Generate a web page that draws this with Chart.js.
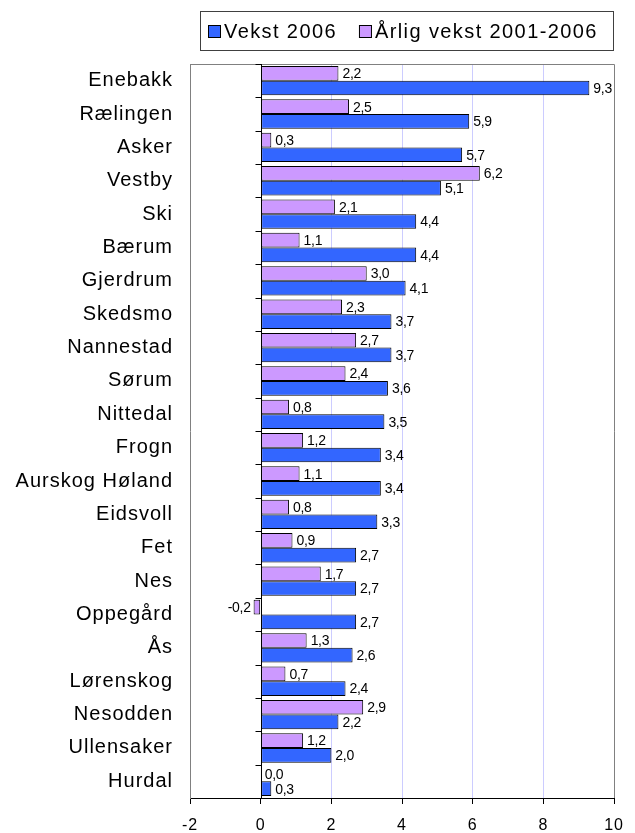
<!DOCTYPE html>
<html>
<head>
<meta charset="utf-8">
<script src="https://cdn.jsdelivr.net/npm/chart.js@4.4.1/dist/chart.umd.min.js"></script>
<style>
  html, body { margin: 0; padding: 0; background: #fff; }
  #wrap { width: 635px; height: 833px; }
</style>
</head>
<body>
<div id="wrap"><canvas id="chart" width="635" height="833"></canvas></div>
<script>
var kommuner = ["Enebakk", "Rælingen", "Asker", "Vestby", "Ski", "Bærum", "Gjerdrum", "Skedsmo",
    "Nannestad", "Sørum", "Nittedal", "Frogn", "Aurskog Høland", "Eidsvoll", "Fet", "Nes",
    "Oppegård", "Ås", "Lørenskog", "Nesodden", "Ullensaker", "Hurdal"];
var vekst2006 = [9.3, 5.9, 5.7, 5.1, 4.4, 4.4, 4.1, 3.7, 3.7, 3.6, 3.5, 3.4, 3.4, 3.3, 2.7, 2.7,
    2.7, 2.6, 2.4, 2.2, 2.0, 0.3];
var aarligVekst = [2.2, 2.5, 0.3, 6.2, 2.1, 1.1, 3.0, 2.3, 2.7, 2.4, 0.8, 1.2, 1.1, 0.8, 0.9, 1.7,
    -0.2, 1.3, 0.7, 2.9, 1.2, 0.0];
var xMin = -2, xMax = 10, xStep = 2;

var FONT = "'Liberation Sans', Arial, sans-serif";

function fmt(v) {
    return v.toFixed(1).replace(".", ",");
}

// frame, zero line, legend box and value labels
var extras = {
    id: "extras",
    beforeDraw: function (chart) {
        chart.ctx.letterSpacing = "1px";
    },
    afterDatasetsDraw: function (chart) {
        var ctx = chart.ctx;
        var a = chart.chartArea;
        var x = chart.scales.x, y = chart.scales.y;
        ctx.save();
        // gray frame top/right
        ctx.strokeStyle = "#808080";
        ctx.lineWidth = 1;
        ctx.beginPath();
        ctx.moveTo(Math.round(a.left) + 0.5, Math.round(a.top) + 0.5);
        ctx.lineTo(Math.round(a.right) + 0.5, Math.round(a.top) + 0.5);
        ctx.lineTo(Math.round(a.right) + 0.5, Math.round(a.bottom));
        ctx.stroke();

        // zero axis with category ticks
        var x0 = Math.round(x.getPixelForValue(0)) + 0.5;
        ctx.strokeStyle = "#000";
        ctx.beginPath();
        ctx.moveTo(x0, a.top);
        ctx.lineTo(x0, a.bottom);
        var half = (y.getPixelForValue(1) - y.getPixelForValue(0)) / 2;
        for (var i = 0; i <= kommuner.length; i++) {
            var py = Math.round(y.getPixelForValue(i) - half) + 0.5;
            ctx.moveTo(x0 - 6, py);
            ctx.lineTo(x0, py);
        }
        ctx.stroke();

        // value labels
        ctx.letterSpacing = "-0.3px";
        ctx.font = "14px " + FONT;
        ctx.fillStyle = "#000";
        ctx.textBaseline = "middle";
        chart.data.datasets.forEach(function (ds, di) {
            chart.getDatasetMeta(di).data.forEach(function (el, j) {
                var v = ds.data[j];
                if (v < 0) {
                    ctx.textAlign = "right";
                    ctx.fillText(fmt(v), el.x - 3, el.y + 1);
                } else {
                    ctx.textAlign = "left";
                    ctx.fillText(fmt(v), el.x + 4, el.y + 1);
                }
            });
        });

        // legend (Vekst 2006 first)
        ctx.letterSpacing = "1.4px";
        ctx.font = "20px " + FONT;
        ctx.textAlign = "left";
        ctx.strokeStyle = "#404040";
        ctx.strokeRect(200.5, 11.5, 413, 39);
        var lx = 208;
        [1, 0].forEach(function (di) {
            var ds = chart.data.datasets[di];
            ctx.fillStyle = ds.backgroundColor;
            ctx.fillRect(lx, 25, 13, 13);
            ctx.strokeStyle = "#000";
            ctx.strokeRect(lx + 0.5, 25.5, 12, 12);
            ctx.fillStyle = "#000";
            ctx.fillText(ds.label, lx + 16, 32);
            lx += 16 + ctx.measureText(ds.label).width + 22;
        });
        ctx.restore();
    },
    afterDraw: function (chart) {
        chart.ctx.letterSpacing = "0px";
    }
};

var ctx = document.getElementById("chart").getContext("2d");
var chart = new Chart(ctx, {
    type: "bar",
    data: {
        labels: kommuner,
        datasets: [
            {
                label: "Årlig vekst 2001-2006",
                data: aarligVekst,
                backgroundColor: "#CC99FF",
                borderColor: "#000",
                borderWidth: 1,
                borderSkipped: false
            },
            {
                label: "Vekst 2006",
                data: vekst2006,
                backgroundColor: "#3366FF",
                borderColor: "#000",
                borderWidth: 1,
                borderSkipped: false
            }
        ]
    },
    options: {
        indexAxis: "y",
        responsive: false,
        animation: false,
        layout: { padding: { top: 64, right: 12, left: 0, bottom: 0 } },
        datasets: {
            bar: { categoryPercentage: 0.88, barPercentage: 1 }
        },
        plugins: {
            legend: { display: false },
            tooltip: { enabled: false }
        },
        scales: {
            x: {
                min: xMin,
                max: xMax,
                afterFit: function (s) { s.height = 35; },
                ticks: {
                    stepSize: xStep,
                    color: "#000",
                    padding: 12,
                    font: { family: FONT, size: 16 },
                    callback: function (v) { return v; }
                },
                grid: {
                    color: function (c) {
                        return (c.tick && c.tick.value > 0 && c.tick.value < xMax) ? "#ccccff" : "rgba(0,0,0,0)";
                    },
                    tickColor: "#000",
                    tickLength: 6
                },
                border: { color: "#000" }
            },
            y: {
                afterFit: function (s) { s.width = 190; },
                ticks: {
                    color: "#000",
                    padding: 17,
                    autoSkip: false,
                    font: { family: FONT, size: 20 }
                },
                grid: { display: false, drawTicks: false },
                border: { color: "#808080" }
            }
        }
    },
    plugins: [extras]
});
</script>
</body>
</html>
